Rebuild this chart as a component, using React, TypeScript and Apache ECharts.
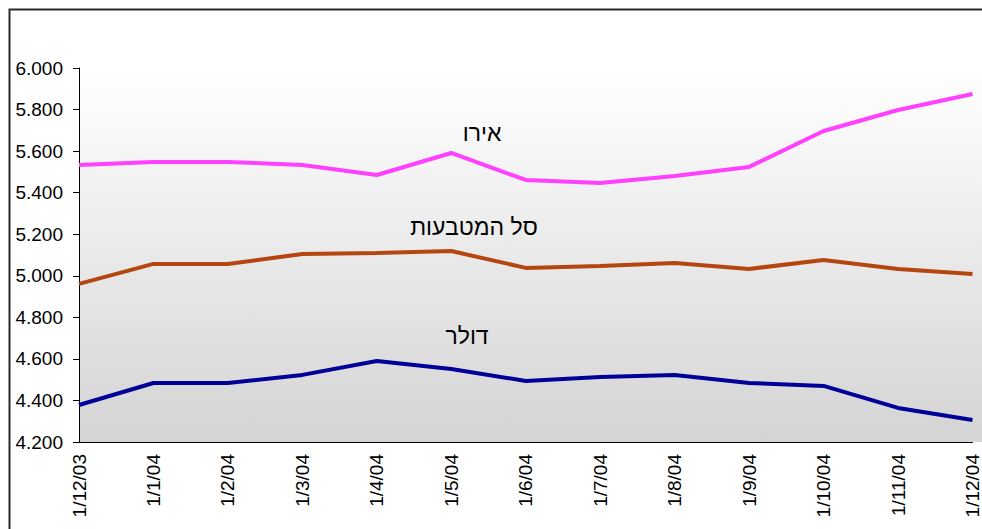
import React, { useEffect, useRef } from "react";
import * as echarts from "echarts";

const categories = ["1/12/03", "1/1/04", "1/2/04", "1/3/04", "1/4/04", "1/5/04", "1/6/04", "1/7/04", "1/8/04", "1/9/04", "1/10/04", "1/11/04", "1/12/04"];
const euro = [5.533, 5.548, 5.548, 5.533, 5.485, 5.591, 5.461, 5.447, 5.48, 5.524, 5.697, 5.798, 5.875];
const basket = [4.961, 5.057, 5.057, 5.105, 5.11, 5.119, 5.038, 5.047, 5.062, 5.033, 5.076, 5.033, 5.009];
const dollar = [4.378, 4.484, 4.484, 4.523, 4.59, 4.551, 4.494, 4.513, 4.523, 4.484, 4.47, 4.364, 4.306];
const seriesNames = ["אירו", "סל המטבעות", "דולר"];

const FONT = "'Liberation Sans', Arial, sans-serif";

export default function App() {
  const ref = useRef<HTMLDivElement>(null);
  useEffect(() => {
    const chart = echarts.init(ref.current!, null, { renderer: "svg" });
    chart.setOption({
      animation: false,
      backgroundColor: "#ffffff",
      grid: { left: 79, top: 68, width: 900, height: 374, containLabel: false },
      graphic: [
        {
          type: "rect",
          z: -10,
          shape: { x: 79, y: 68, width: 903, height: 374 },
          style: {
            fill: new echarts.graphic.LinearGradient(0, 0, 0, 1, [
              { offset: 0, color: "#ffffff" },
              { offset: 1, color: "#d4d4d4" },
            ]),
          },
        },
        {
          type: "rect",
          z: 10,
          shape: { x: 9.5, y: 9.5, width: 1000, height: 600 },
          style: { fill: "none", stroke: "#2a2a2a", lineWidth: 2 },
        },
        { type: "text", z: 20, x: 482, y: 133, style: { text: seriesNames[0], font: `23px ${FONT}`, fill: "#000", textAlign: "center", textVerticalAlign: "middle" } },
        { type: "text", z: 20, x: 474, y: 227, style: { text: seriesNames[1], font: `23px ${FONT}`, fill: "#000", textAlign: "center", textVerticalAlign: "middle" } },
        { type: "text", z: 20, x: 467, y: 336, style: { text: seriesNames[2], font: `23px ${FONT}`, fill: "#000", textAlign: "center", textVerticalAlign: "middle" } },
      ],
      xAxis: {
        type: "category",
        data: categories,
        boundaryGap: false,
        axisLine: { lineStyle: { color: "#000", width: 1 } },
        axisTick: { show: false },
        axisLabel: { rotate: 90, margin: 12, fontSize: 19, color: "#000", fontFamily: FONT, interval: 0 },
        splitLine: { show: false },
      },
      yAxis: {
        type: "value",
        min: 4.2,
        max: 6.0,
        interval: 0.2,
        axisLine: { show: true, lineStyle: { color: "#000", width: 1 } },
        axisTick: { show: true, length: 6, lineStyle: { color: "#000" } },
        axisLabel: { margin: 16, fontSize: 19, color: "#000", fontFamily: FONT, formatter: (v: number) => v.toFixed(3) },
        splitLine: { show: false },
      },
      series: [
        { name: seriesNames[0], type: "line", data: euro, symbol: "none", lineStyle: { color: "#ff40ff", width: 4 } },
        { name: seriesNames[1], type: "line", data: basket, symbol: "none", lineStyle: { color: "#b5460f", width: 4 } },
        { name: seriesNames[2], type: "line", data: dollar, symbol: "none", lineStyle: { color: "#000099", width: 4 } },
      ],
    });
    return () => chart.dispose();
  }, []);
  return <div ref={ref} style={{ position: "absolute", left: 0, top: 0, width: 982, height: 529 }} />;
}
